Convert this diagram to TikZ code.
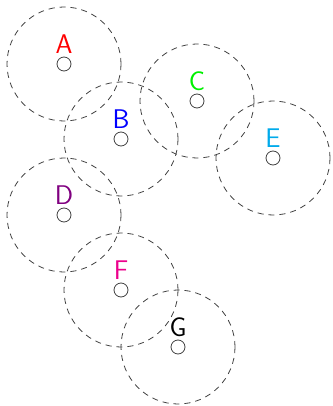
\documentclass[tikz,border=0pt]{standalone}
\usetikzlibrary{positioning}
\definecolor{cD}{RGB}{128,0,128}
\definecolor{cE}{RGB}{0,170,235}
\definecolor{cF}{RGB}{236,0,140}
\definecolor{cC}{RGB}{0,240,0}
\begin{document}
\begin{tikzpicture}[x=1pt,y=-1pt]
        \tikzstyle{site}=[circle,draw=black!75,line width=0.8pt,minimum size=14pt,inner sep=0pt]
        \tikzstyle{reach}=[draw=black!75,line width=0.8pt,dash pattern=on 6pt off 5pt]
        \tikzstyle{tag}=[font=\sffamily\fontsize{27}{27}\selectfont,inner sep=1pt]
        \useasboundingbox (0,0) rectangle (332,406);
        \node[site] (a) at (64,  64) {};
        \node[site] (b) at (121, 139) {};
        \node[site] (c) at (197, 101) {};
        \node[site] (d) at (64,  215) {};
        \node[site] (e) at (273, 158) {};
        \node[site] (f) at (121, 290) {};
        \node[site] (g) at (178, 347) {};
        \foreach \n in {a,b,c,d,e,f,g}
            \draw[reach] (\n) circle (57pt);
        \node[tag,text=red,above=2pt of a]   (la) {A};
        \node[tag,text=blue,above=2pt of b]  (lb) {B};
        \node[tag,text=cC,above=2pt of c]    (lc) {C};
        \node[tag,text=cD,above=2pt of d]    (ld) {D};
        \node[tag,text=cE,above=2pt of e]    (le) {E};
        \node[tag,text=cF,above=2pt of f]    (lf) {F};
        \node[tag,text=black,above=2pt of g] (lg) {G};
    \end{tikzpicture}
\end{document}
